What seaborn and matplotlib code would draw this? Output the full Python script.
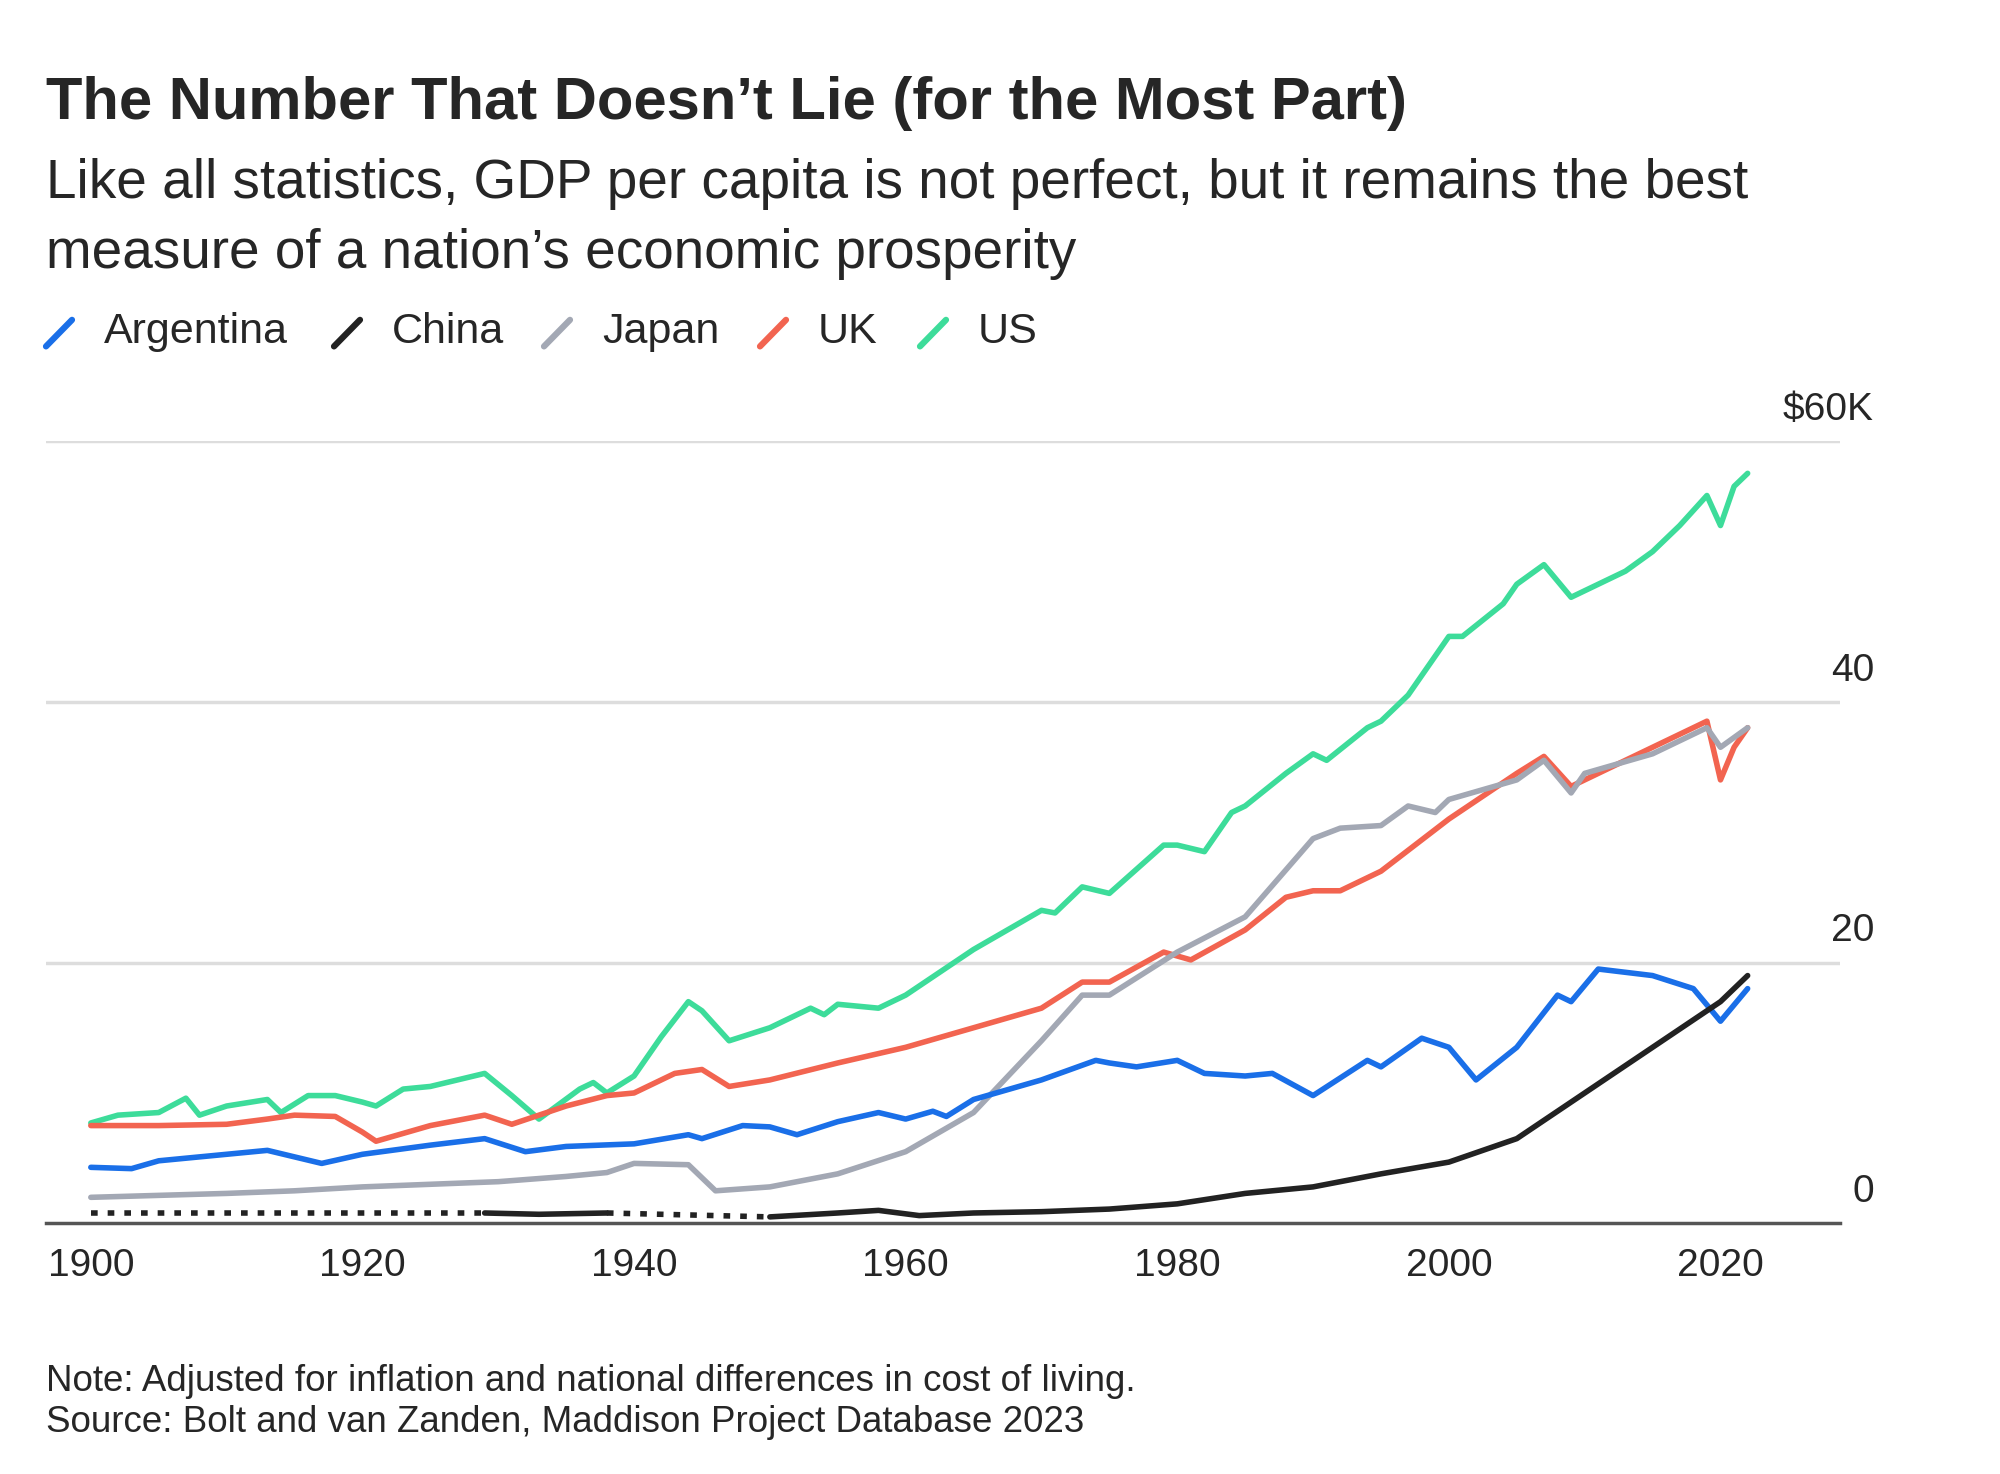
import matplotlib.pyplot as plt
import matplotlib.lines as mlines
import matplotlib.transforms as mtransforms
import seaborn as sns
import pandas as pd

# GDP per capita, thousands of 2011 dollars
us_years = [1900, 1902, 1905, 1907, 1908, 1910, 1913, 1914, 1916, 1918, 1920, 1921, 1923, 1925, 1927, 1929, 1931, 1933,
            1936, 1937, 1938, 1940, 1942, 1944, 1945, 1947, 1950, 1953, 1954, 1955, 1958, 1960, 1965, 1970, 1971, 1973,
            1975, 1979, 1980, 1982, 1984, 1985, 1988, 1990, 1991, 1994, 1995, 1997, 2000, 2001, 2004, 2005, 2007, 2009,
            2010, 2013, 2015, 2017, 2019, 2020, 2021, 2022]
us_vals = [7.7, 8.3, 8.5, 9.6, 8.3, 9.0, 9.5, 8.5, 9.8, 9.8, 9.3, 9.0, 10.3, 10.5, 11.0, 11.5, 9.8, 8.0,
           10.3, 10.8, 10.0, 11.3, 14.3, 17.0, 16.3, 14.0, 15.0, 16.5, 16.0, 16.8, 16.5, 17.5, 21.0, 24.0, 23.8, 25.8,
           25.3, 29.0, 29.0, 28.5, 31.5, 32.0, 34.5, 36.0, 35.5, 38.0, 38.5, 40.5, 45.0, 45.0, 47.5, 49.0, 50.5, 48.0,
           48.5, 50.0, 51.5, 53.5, 55.8, 53.5, 56.5, 57.5]

uk_years = [1900, 1905, 1910, 1913, 1915, 1918, 1920, 1921, 1925, 1929, 1931, 1935, 1938, 1940, 1943, 1945, 1947, 1950,
            1955, 1960, 1965, 1970, 1973, 1975, 1979, 1981, 1985, 1988, 1990, 1992, 1995, 2000, 2005, 2007, 2009, 2010,
            2015, 2019, 2020, 2021, 2022]
uk_vals = [7.5, 7.5, 7.6, 8.0, 8.3, 8.2, 7.0, 6.3, 7.5, 8.3, 7.6, 9.0, 9.8, 10.0, 11.5, 11.8, 10.5, 11.0,
           12.3, 13.5, 15.0, 16.5, 18.5, 18.5, 20.8, 20.2, 22.5, 25.0, 25.5, 25.5, 27.0, 31.0, 34.5, 35.8, 33.5, 34.0,
           36.5, 38.5, 34.0, 36.5, 38.0]

jp_years = [1900, 1910, 1915, 1920, 1925, 1930, 1935, 1938, 1940, 1944, 1946, 1950, 1955, 1960, 1965, 1970, 1973, 1975,
            1980, 1985, 1990, 1992, 1995, 1997, 1999, 2000, 2005, 2007, 2009, 2010, 2015, 2019, 2020, 2022]
jp_vals = [2.0, 2.3, 2.5, 2.8, 3.0, 3.2, 3.6, 3.9, 4.6, 4.5, 2.5, 2.8, 3.8, 5.5, 8.5, 14.0, 17.5, 17.5,
           20.8, 23.5, 29.5, 30.3, 30.5, 32.0, 31.5, 32.5, 34.0, 35.5, 33.0, 34.5, 36.0, 38.0, 36.5, 38.0]

ar_years = [1900, 1903, 1905, 1910, 1913, 1917, 1920, 1925, 1929, 1932, 1935, 1940, 1944, 1945, 1948, 1950, 1952, 1955,
            1958, 1960, 1962, 1963, 1965, 1970, 1974, 1975, 1977, 1980, 1982, 1985, 1987, 1990, 1994, 1995, 1998, 2000,
            2002, 2005, 2008, 2009, 2011, 2015, 2018, 2020, 2022]
ar_vals = [4.3, 4.2, 4.8, 5.3, 5.6, 4.6, 5.3, 6.0, 6.5, 5.5, 5.9, 6.1, 6.8, 6.5, 7.5, 7.4, 6.8, 7.8,
           8.5, 8.0, 8.6, 8.2, 9.5, 11.0, 12.5, 12.3, 12.0, 12.5, 11.5, 11.3, 11.5, 9.8, 12.5, 12.0, 14.2, 13.5,
           11.0, 13.5, 17.5, 17.0, 19.5, 19.0, 18.0, 15.5, 18.0]

cn_years = [1950, 1955, 1958, 1961, 1965, 1970, 1975, 1980, 1985, 1990, 1995, 2000, 2005, 2010, 2015, 2020, 2022]
cn_vals = [0.5, 0.8, 1.0, 0.6, 0.8, 0.9, 1.1, 1.5, 2.3, 2.8, 3.8, 4.7, 6.5, 10.0, 13.5, 17.0, 19.0]
cn_early_years = [1900, 1929, 1933, 1938, 1950]
cn_early_vals = [0.8, 0.8, 0.7, 0.8, 0.5]

names = ["Argentina", "China", "Japan", "UK", "US"]
colors = ["#1a6fe8", "#222222", "#a3a8b4", "#f26450", "#3ddc9a"]

frames = []
for name, yrs, vals in [("US", us_years, us_vals), ("UK", uk_years, uk_vals), ("Japan", jp_years, jp_vals),
                        ("Argentina", ar_years, ar_vals), ("China", cn_years, cn_vals)]:
    frames.append(pd.DataFrame({"year": yrs, "gdp": vals, "country": name}))
df = pd.concat(frames)

sns.set_style("white")
plt.rcParams['font.family'] = ['Liberation Sans', 'DejaVu Sans']

fig = plt.figure(figsize=(20, 14.74), dpi=100)
ax = fig.add_axes([0.023, 0.17, 0.897, 0.531])

ax.set_ylim(0, 60)
ax.set_xlim(1896.7, 2028.8)
for v in [20, 40, 60]:
    ax.axhline(v, color="#dddddd", lw=2.5, zorder=0)

palette = dict(zip(names, colors))
sns.lineplot(data=df, x="year", y="gdp", hue="country", palette=palette, lw=4, legend=False, ax=ax,
             hue_order=["US", "UK", "Japan", "Argentina", "China"], clip_on=False)

# China early estimates: dotted with a solid stretch
ax.plot(cn_early_years[:2], cn_early_vals[:2], color="#222222", lw=4, ls=(0, (1.2, 1.8)))
ax.plot(cn_early_years[1:4], cn_early_vals[1:4], color="#222222", lw=4)
ax.plot(cn_early_years[3:], cn_early_vals[3:], color="#222222", lw=4, ls=(0, (1.2, 1.8)))

for s in ["top", "right", "left"]:
    ax.spines[s].set_visible(False)
ax.spines["bottom"].set_color("#555555")
ax.spines["bottom"].set_linewidth(2.5)
ax.set_yticks([])
ax.set_xticks(range(1900, 2021, 20))
ax.set_xticks(range(1900, 2026, 5), minor=True)
ax.tick_params(axis="x", which="major", length=12, width=2, color="#555555", labelsize=28, pad=6)
ax.tick_params(axis="x", which="minor", length=7, width=1.5, color="#555555")
ax.set_xlabel("")
ax.set_ylabel("")

trans = mtransforms.blended_transform_factory(fig.transFigure, ax.transData)
for v, lab in [(0, "0"), (20, "20"), (40, "40"), (60, "$60K")]:
    ax.text(0.937, v + 1.0, lab, transform=trans, ha="right", va="bottom", fontsize=28)

fig.text(0.023, 0.93, "The Number That Doesn\u2019t Lie (for the Most Part)", fontsize=43, fontweight="bold", va="center")
fig.text(0.023, 0.875, "Like all statistics, GDP per capita is not perfect, but it remains the best", fontsize=39.5, va="center")
fig.text(0.023, 0.828, "measure of a nation\u2019s economic prosperity", fontsize=39.5, va="center")

for x0, name, c in zip([0.023, 0.167, 0.272, 0.38, 0.46], names, colors):
    fig.add_artist(mlines.Line2D([x0, x0 + 0.013], [0.765, 0.783], color=c, lw=4.5, transform=fig.transFigure))
    fig.text(x0 + 0.029, 0.775, name, fontsize=31, va="center")

fig.text(0.023, 0.063, "Note: Adjusted for inflation and national differences in cost of living.", fontsize=26.5, va="center")
fig.text(0.023, 0.035, "Source: Bolt and van Zanden, Maddison Project Database 2023", fontsize=26.5, va="center")

fig.savefig("out.png", dpi=100, facecolor="white")
